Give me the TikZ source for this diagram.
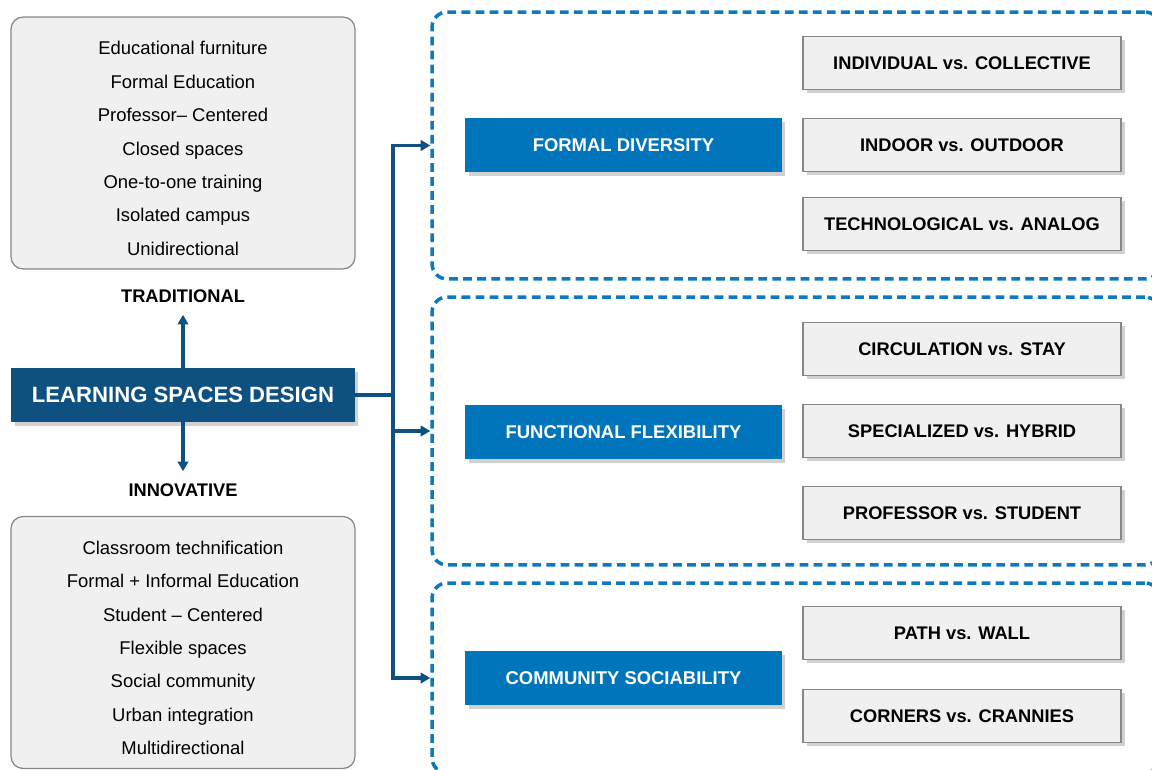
\documentclass[tikz,border=0pt]{standalone}
\usepackage{fontspec}
\setmainfont{Liberation Sans}
\usetikzlibrary{arrows.meta, shadows}

\definecolor{navy}{RGB}{14,80,128}
\definecolor{midblue}{RGB}{0,117,187}
\definecolor{dashblue}{RGB}{12,121,192}
\definecolor{panel}{RGB}{240,240,240}
\definecolor{rim}{RGB}{135,135,135}

\begin{document}
\begin{tikzpicture}[x=0.02cm, y=-0.02cm,
    listbox/.style={draw=rim, fill=panel, rounded corners=0.24cm, line width=0.7pt,
        minimum width=6.88cm, minimum height=5.04cm, inner sep=0pt},
    listtext/.style={inner sep=0pt, align=center, font=\fontsize{10.5}{19}\selectfont},
    tag/.style={inner sep=0pt, font=\fontsize{10.4}{12}\selectfont\bfseries},
    frame/.style={draw=dashblue, line width=2pt, dash pattern=on 5pt off 3pt,
        rounded corners=0.3cm, minimum width=14.56cm, inner sep=0pt},
    pillar/.style={fill=midblue, text=white, minimum width=6.34cm, minimum height=1.08cm,
        inner sep=0pt, font=\fontsize{10.5}{12}\selectfont\bfseries,
        drop shadow={shadow xshift=2pt, shadow yshift=-2pt, opacity=0.3, fill=black!60}},
    pair/.style={draw=rim, fill=panel, line width=1.1pt, minimum width=6.36cm,
        minimum height=1.06cm, inner sep=0pt, font=\fontsize{10.4}{12}\selectfont\bfseries,
        drop shadow={shadow xshift=2pt, shadow yshift=-2pt, opacity=0.3, fill=black!60}},
    link/.style={draw=navy, line width=2.2pt, line cap=rect}]

    \useasboundingbox (0,0) rectangle (1152,770);
    \clip (0,0) rectangle (1152,770);

    % dashed frames, running off the right and bottom edges
    \node[frame, minimum height=5.34cm] (frame1) at (796,145.5) {};
    \node[frame, minimum height=5.36cm] (frame2) at (796,431) {};
    \node[frame, minimum height=3.8cm] (frame3) at (796,678) {};

    % left column
    \node[listbox] (trad) at (183,143) {};
    \node[listtext] (tradlist) at (183,148.5) {Educational furniture\\Formal Education\\Professor-- Centered\\Closed spaces\\One-to-one training\\Isolated campus\\Unidirectional};
    \node[tag] (tradlbl) at (183,296) {TRADITIONAL};

    \node[fill=navy, text=white, minimum width=6.88cm, minimum height=1.08cm, inner sep=0pt,
        font=\fontsize{12.6}{15}\selectfont\bfseries,
        drop shadow={shadow xshift=2pt, shadow yshift=-2pt, opacity=0.3, fill=black!60}]
        (main) at (183,395) {LEARNING SPACES DESIGN};

    \node[tag] (innolbl) at (183,490) {INNOVATIVE};
    \node[listbox] (innov) at (183,642.5) {};
    \node[listtext] (innovlist) at (183,648) {Classroom technification\\Formal + Informal Education\\Student -- Centered\\Flexible spaces\\Social community\\Urban integration\\Multidirectional};

    \draw[link, -{Triangle[length=5.5pt, width=6pt]}, shorten >=0.24cm] (main.north) -- (tradlbl.south);
    \draw[link, -{Triangle[length=5.5pt, width=6pt]}, shorten >=0.24cm] (main.south) -- (innolbl.north);

    % trunk out to the three frames
    \coordinate (trunk) at (393,395);
    \draw[link] (main.east) -- (trunk);
    \draw[link] (trunk |- frame1.west) -- (trunk |- frame3.west);
    \draw[link, -{Triangle[length=5.5pt, width=6pt]}] (trunk |- frame1.west) -- (frame1.west);
    \draw[link, -{Triangle[length=5.5pt, width=6pt]}] (trunk |- frame2.west) -- (frame2.west);
    \draw[link, -{Triangle[length=5.5pt, width=6pt]}] (trunk |- frame3.west) -- (frame3.west);

    % categories
    \node[pillar] (formal) at (623.5,145) {FORMAL DIVERSITY};
    \node[pillar] (functional) at (623.5,432) {FUNCTIONAL FLEXIBILITY};
    \node[pillar] (community) at (623.5,678) {COMMUNITY SOCIABILITY};

    % opposing pairs
    \node[pair] (indiv) at (962,63) {INDIVIDUAL vs. COLLECTIVE};
    \node[pair] (indoor) at (962,145) {INDOOR vs. OUTDOOR};
    \node[pair] (techno) at (962,224) {TECHNOLOGICAL vs. ANALOG};
    \node[pair] (circ) at (962,349) {CIRCULATION vs. STAY};
    \node[pair] (special) at (962,431) {SPECIALIZED vs. HYBRID};
    \node[pair] (prof) at (962,513) {PROFESSOR vs. STUDENT};
    \node[pair] (path) at (962,633) {PATH vs. WALL};
    \node[pair] (corners) at (962,716) {CORNERS vs. CRANNIES};
\end{tikzpicture}
\end{document}
